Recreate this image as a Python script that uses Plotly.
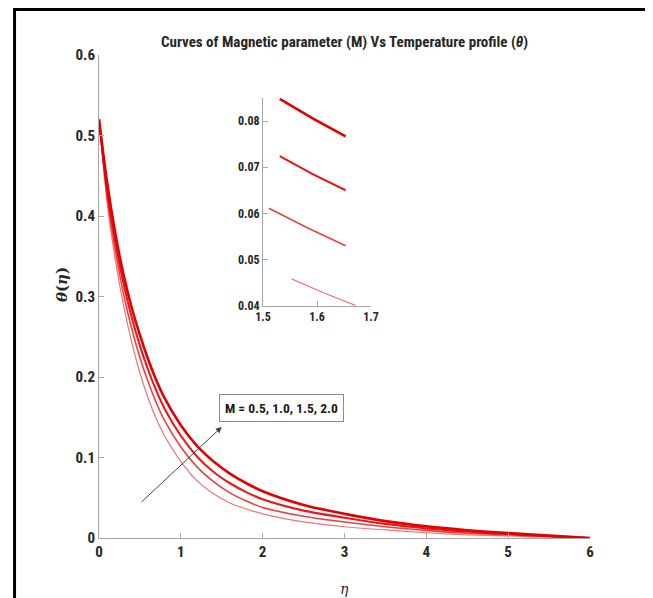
import plotly.graph_objects as go

# ---------------- data ----------------
eta = [0, 0.1, 0.2, 0.3, 0.4, 0.5, 0.6, 0.7, 0.8, 1.0, 1.2, 1.4, 1.6, 1.8,
       2.0, 2.5, 3.0, 3.5, 4.0, 4.5, 5.0, 5.5, 6.0]

theta_top = [0.52, 0.441, 0.378, 0.327, 0.286, 0.252, 0.222, 0.196, 0.174, 0.140,
             0.114, 0.095, 0.080, 0.068, 0.058, 0.041, 0.030, 0.021, 0.0145, 0.0097,
             0.006, 0.003, 0.0]
theta_2 = [0.52, 0.433, 0.368, 0.316, 0.274, 0.239, 0.209, 0.183, 0.161, 0.127,
           0.101, 0.082, 0.068, 0.057, 0.048, 0.034, 0.0252, 0.0175, 0.012, 0.008,
           0.005, 0.0025, 0.0]
theta_3 = [0.52, 0.425, 0.357, 0.303, 0.260, 0.224, 0.194, 0.168, 0.146, 0.113,
           0.088, 0.070, 0.056, 0.046, 0.038, 0.027, 0.0198, 0.014, 0.0095, 0.006,
           0.004, 0.002, 0.0]
theta_bot = [0.52, 0.416, 0.345, 0.289, 0.243, 0.205, 0.174, 0.148, 0.127, 0.095,
             0.071, 0.055, 0.0435, 0.036, 0.030, 0.020, 0.014, 0.010, 0.0065, 0.004,
             0.0025, 0.001, 0.0]

# inset (zoomed) segments
inset_x_top = [1.531, 1.592, 1.653]
inset_y_top = [0.0848, 0.0806, 0.0767]
inset_x_2 = [1.531, 1.592, 1.653]
inset_y_2 = [0.0724, 0.0685, 0.0650]
inset_x_3 = [1.511, 1.582, 1.653]
inset_y_3 = [0.0611, 0.0569, 0.0530]
inset_x_bot = [1.553, 1.612, 1.672]
inset_y_bot = [0.0458, 0.0428, 0.0400]

main_xticks = [0, 1, 2, 3, 4, 5, 6]
main_yticks = [0, 0.1, 0.2, 0.3, 0.4, 0.5, 0.6]
inset_xticks = [1.5, 1.6, 1.7]
inset_yticks = [0.04, 0.05, 0.06, 0.07, 0.08]

label_text = "M = 0.5, 1.0, 1.5, 2.0"
title_text = "Curves of Magnetic parameter (M) Vs Temperature profile (<i>θ</i>)"

# ---------------- styling ----------------
NARROW = "Roboto Condensed, Liberation Sans Narrow, Arial Narrow, Liberation Sans, Arial"
styles = [
    ("rgba(228,0,0,1.0)", 2.6),
    ("rgba(228,0,0,0.9)", 2.1),
    ("rgba(228,0,0,0.75)", 1.6),
    ("rgba(228,0,0,0.55)", 1.2),
]
series = [theta_top, theta_2, theta_3, theta_bot]
inset_series = [(inset_x_top, inset_y_top), (inset_x_2, inset_y_2),
                (inset_x_3, inset_y_3), (inset_x_bot, inset_y_bot)]

fig = go.Figure()
for ys, (c, w) in zip(series, styles):
    fig.add_trace(go.Scatter(x=eta, y=ys, mode="lines",
                             line=dict(color=c, width=w, shape="spline", smoothing=0.8),
                             showlegend=False, hoverinfo="skip"))
for (xs, ys), (c, w) in zip(inset_series, styles):
    fig.add_trace(go.Scatter(x=xs, y=ys, mode="lines", line=dict(color=c, width=w),
                             xaxis="x2", yaxis="y2", showlegend=False, hoverinfo="skip"))

axis_common = dict(showline=True, linecolor="#a6a6a6", linewidth=1, ticks="inside",
                   tickcolor="#a6a6a6", ticklen=5, showgrid=False, zeroline=False,
                   mirror=False)

# page body has an 8px margin; plot area targets x 99..590, y 55..538 in the window
L, T = 91, 47
fig.update_layout(
    width=653, height=598,
    margin=dict(l=L, r=71, t=T, b=68),
    paper_bgcolor="white", plot_bgcolor="white",
    xaxis=dict(range=[0, 6], tickvals=main_xticks,
               ticktext=[f"<b>{v}</b>" for v in main_xticks],
               tickfont=dict(family=NARROW, size=15, color="#262626"), **axis_common),
    yaxis=dict(range=[0, 0.6], tickvals=main_yticks,
               ticktext=["<b>0</b>" if v == 0 else f"<b>{v:.1f}</b>" for v in main_yticks],
               tickfont=dict(family=NARROW, size=15, color="#262626"), **axis_common),
    xaxis2=dict(domain=[0.334, 0.554], anchor="y2", range=[1.5, 1.7], tickvals=inset_xticks,
                ticktext=[f"<b>{v:.1f}</b>" for v in inset_xticks],
                tickfont=dict(family=NARROW, size=12, color="#262626"), **axis_common),
    yaxis2=dict(domain=[0.481, 0.911], anchor="x2", range=[0.04, 0.085], tickvals=inset_yticks,
                ticktext=[f"<b>{v:.2f}</b>" for v in inset_yticks],
                tickfont=dict(family=NARROW, size=12, color="#262626"), **axis_common),
    font=dict(family=NARROW, color="#262626"),
)

# outer black frame
fig.add_shape(type="rect", xref="paper", yref="paper",
              x0=-0.172, x1=1.124, y0=-0.25, y1=1.094,
              line=dict(color="black", width=3), fillcolor="rgba(0,0,0,0)", layer="above")

# title
fig.add_annotation(text="<b>" + title_text + "</b>", xref="paper", yref="paper",
                   x=0.5, y=1.0 + 13 / 483, xanchor="center", yanchor="middle",
                   showarrow=False, font=dict(family=NARROW, size=15, color="#262626"))
# y label
fig.add_annotation(text="<b><i>θ</i>(<i>η</i>)</b>", xref="paper", yref="paper",
                   x=(62 - 99) / 491, y=(538 - 285) / 483, textangle=-90,
                   xanchor="center", yanchor="middle", showarrow=False,
                   font=dict(family="DejaVu Serif", size=15, color="#262626"))
# x label
fig.add_annotation(text="<i>η</i>", xref="paper", yref="paper",
                   x=0.5, y=-(589 - 538) / 483, xanchor="center", yanchor="middle",
                   showarrow=False, font=dict(family="DejaVu Serif", size=14, color="#262626"))
# label box
fig.add_annotation(text="<b>" + label_text + "</b>", x=2.225, y=0.1615, xref="x", yref="y",
                   showarrow=False, bordercolor="#8c8c8c", borderwidth=1, borderpad=5,
                   bgcolor="white", font=dict(family=NARROW, size=13.5, color="#1a1a1a"))
# arrow
fig.add_annotation(text="", x=1.50, y=0.138, ax=0.501, ay=0.043, xref="x", yref="y",
                   axref="x", ayref="y", showarrow=True, arrowhead=2, arrowsize=1.2,
                   arrowwidth=1, arrowcolor="#444444")

fig.write_html("out.html")
